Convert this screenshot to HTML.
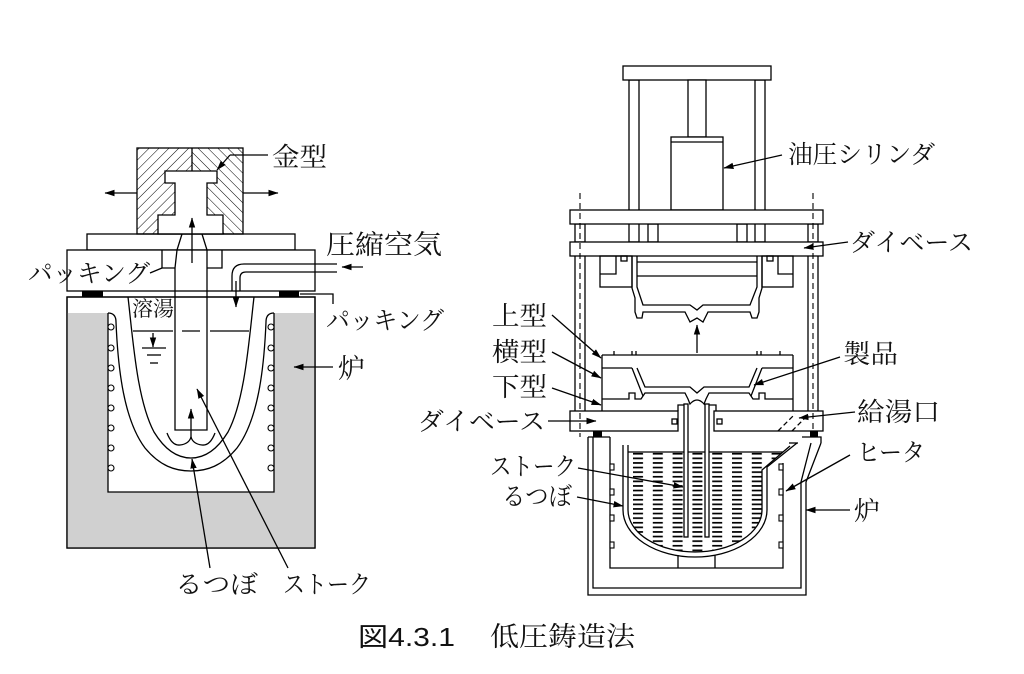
<!DOCTYPE html>
<html><head><meta charset="utf-8"><style>
html,body{margin:0;padding:0;background:#fff;}
svg{display:block;}
.t{font-family:"Noto Serif CJK SC","Noto Serif CJK JP","IPAMincho","Liberation Serif",serif;fill:#111;}
</style></head><body>
<svg width="1024" height="674" viewBox="0 0 1024 674" xmlns="http://www.w3.org/2000/svg">
<defs>
<marker id="a" markerWidth="10" markerHeight="8" refX="9.5" refY="4" orient="auto" markerUnits="userSpaceOnUse"><path d="M0,0.8 L10,4 L0,7.2 Z" fill="#000"/></marker>
<pattern id="h1" width="7" height="7" patternUnits="userSpaceOnUse" patternTransform="rotate(45)"><line x1="0" y1="0" x2="0" y2="7" stroke="#000" stroke-width="1"/></pattern>
<pattern id="h2" width="7" height="7" patternUnits="userSpaceOnUse" patternTransform="rotate(-45)"><line x1="0" y1="0" x2="0" y2="7" stroke="#000" stroke-width="1"/></pattern>
<pattern id="melt" x="633" y="457.5" width="19.8" height="4.6" patternUnits="userSpaceOnUse"><rect x="0" y="0" width="10" height="1.7" fill="#000"/></pattern>
</defs>

<!-- ================= LEFT DIAGRAM ================= -->
<g stroke="#000" stroke-width="1.3" fill="none">
<rect x="87" y="234" width="208" height="16" fill="#fff"/>
<rect x="67" y="250" width="248" height="41" fill="#fff"/>
<rect x="137" y="148" width="55" height="86" fill="url(#h1)" stroke="none"/>
<rect x="192" y="148" width="51" height="86" fill="url(#h2)" stroke="none"/>
<polygon points="165,171 217,171 217,183 207,183 207,215 223,215 223,234 158,234 158,215 175,215 175,183 165,183" fill="#fff"/>
<rect x="137" y="148" width="106" height="86"/>
<line x1="192" y1="148" x2="192" y2="171"/>
<polyline points="182,234 177,250 175,268"/>
<polyline points="202,234 207,250 207,268"/>
<polyline points="162,250 162,268 175,268"/>
<polyline points="222,250 222,268 207,268"/>
<path d="M337,264 H244 Q232,264 232,276 V291"/>
<path d="M337,272 H246 Q240,272 240,278 V291"/>
<rect x="67" y="297" width="248" height="251" fill="#fff"/>
<path d="M67,313 H315 V548 H67 Z M108,313 V492 H274 V313 Z" fill="#d0d0d0" fill-rule="evenodd" stroke="none"/>
<rect x="67" y="297" width="248" height="251"/>
<path d="M108,313 V492 H274 V313"/>
<path d="M108,313 Q116,313 116,322 C118,370 124,420 145,448 C160,466 175,471 191,471 C207,471 222,466 237,448 C258,420 264,370 266,322 Q266,313 274,313"/>
<path d="M128,297 C133,340 137,400 154,432 C165,450 178,458 191,458 C204,458 217,450 228,432 C245,400 249,340 254,297"/>
<g fill="#fff" stroke-width="1.1">
<circle cx="111" cy="327" r="3"/><circle cx="111" cy="348" r="3"/><circle cx="111" cy="368" r="3"/><circle cx="111" cy="388" r="3"/><circle cx="111" cy="408" r="3"/><circle cx="111" cy="428" r="3"/><circle cx="111" cy="448" r="3"/><circle cx="111" cy="468" r="3"/>
<circle cx="271" cy="327" r="3"/><circle cx="271" cy="348" r="3"/><circle cx="271" cy="368" r="3"/><circle cx="271" cy="388" r="3"/><circle cx="271" cy="408" r="3"/><circle cx="271" cy="428" r="3"/><circle cx="271" cy="448" r="3"/><circle cx="271" cy="468" r="3"/>
</g>
<path d="M175,268 V430 H207 V268"/>
<line x1="133" y1="331" x2="173" y2="331"/>
<line x1="182" y1="331" x2="200" y2="331"/>
<line x1="210" y1="331" x2="249" y2="331"/>
<line x1="142" y1="348" x2="166" y2="348"/>
<line x1="147" y1="355" x2="161" y2="355"/>
<line x1="150" y1="363" x2="158" y2="363"/>
<path d="M167,433 Q172,446 180,445 Q189,444 191,437 Q193,444 202,445 Q210,446 215,433"/>
<line x1="137" y1="193" x2="105" y2="193" marker-end="url(#a)"/>
<line x1="243" y1="193" x2="278" y2="193" marker-end="url(#a)"/>
<line x1="192" y1="263" x2="192" y2="218" marker-end="url(#a)"/>
<line x1="236" y1="281" x2="236" y2="307" marker-end="url(#a)"/>
<line x1="363" y1="267" x2="342" y2="267" marker-end="url(#a)"/>
<line x1="153" y1="333" x2="153" y2="347" marker-end="url(#a)"/>
<line x1="191" y1="438" x2="191" y2="409" marker-end="url(#a)"/>
<line x1="210" y1="568" x2="192" y2="459" marker-end="url(#a)"/>
<line x1="288" y1="568" x2="197" y2="389" marker-end="url(#a)"/>
<line x1="333" y1="367" x2="294" y2="367" marker-end="url(#a)"/>
<line x1="268" y1="155" x2="230" y2="155"/>
<line x1="230" y1="155" x2="217" y2="170" marker-end="url(#a)"/>
<line x1="150" y1="273" x2="162" y2="268"/>
<polyline points="300,294 333,294 333,304"/>
</g>
<rect x="82" y="291" width="21" height="6" fill="#000"/>
<rect x="279" y="291" width="20" height="6" fill="#000"/>

<text class="t" x="272" y="166" font-size="26" textLength="55" lengthAdjust="spacingAndGlyphs">金型</text>
<text class="t" x="326" y="254" font-size="27" textLength="116" lengthAdjust="spacingAndGlyphs">圧縮空気</text>
<text class="t" x="28" y="282" font-size="25" textLength="122" lengthAdjust="spacingAndGlyphs">パッキング</text>
<text class="t" x="326" y="329" font-size="25" textLength="118" lengthAdjust="spacingAndGlyphs">パッキング</text>
<text class="t" x="132" y="316" font-size="21" textLength="42" lengthAdjust="spacingAndGlyphs">溶湯</text>
<text class="t" x="338" y="378" font-size="27">炉</text>
<text class="t" x="175" y="593" font-size="25" textLength="83" lengthAdjust="spacingAndGlyphs">るつぼ</text>
<text class="t" x="283" y="593" font-size="25" textLength="88" lengthAdjust="spacingAndGlyphs">ストーク</text>

<!-- ================= RIGHT DIAGRAM ================= -->
<g stroke="#000" stroke-width="1.3" fill="none">
<rect x="629" y="80" width="10" height="162" fill="#fff"/>
<rect x="755" y="80" width="10" height="162" fill="#fff"/>
<rect x="623" y="66" width="148" height="14" fill="#fff"/>
<rect x="688" y="80" width="18" height="57" fill="#fff"/>
<rect x="671" y="137" width="52" height="73" fill="#fff"/>
<line x1="671" y1="142" x2="723" y2="142"/>
<rect x="575" y="224" width="10" height="18" fill="#fff"/>
<rect x="648" y="224" width="10" height="18" fill="#fff"/>
<rect x="737" y="224" width="10" height="18" fill="#fff"/>
<rect x="808" y="224" width="10" height="18" fill="#fff"/>
<rect x="570" y="210" width="253" height="14" fill="#fff"/>
<rect x="570" y="242" width="253" height="14" fill="#fff"/>
<line x1="575" y1="256" x2="575" y2="411"/>
<line x1="585" y1="256" x2="585" y2="411"/>
<line x1="808" y1="256" x2="808" y2="411"/>
<line x1="818" y1="256" x2="818" y2="411"/>
<rect x="600" y="256" width="32" height="31"/>
<polyline points="616,256 616,274 600,274"/>
<rect x="762" y="256" width="31" height="31"/>
<polyline points="778,256 778,274 793,274"/>
<rect x="621" y="256" width="6" height="5"/>
<rect x="767" y="256" width="6" height="5"/>
<line x1="637" y1="262" x2="757" y2="262"/>
<line x1="637" y1="276" x2="757" y2="276"/>
<polyline points="632,256 632,288 635,298 635,312 637,318 642,318 643,312 685,312 690,322 697,318 703,322 708,312 750,312 752,318 757,318 759,312 759,298 762,288 762,256"/>
<polyline points="637,256 637,287 643,305 690,305 697,310 703,305 750,305 757,287 757,256"/>
<line x1="697" y1="353" x2="697" y2="325" marker-end="url(#a)"/>
<line x1="602" y1="355" x2="793" y2="355"/>
<line x1="614" y1="351" x2="614" y2="355"/><line x1="632" y1="351" x2="632" y2="355"/><line x1="636" y1="351" x2="636" y2="355"/>
<line x1="757" y1="351" x2="757" y2="355"/><line x1="761" y1="351" x2="761" y2="355"/><line x1="780" y1="351" x2="780" y2="355"/>
<line x1="602" y1="355" x2="602" y2="411"/>
<line x1="793" y1="355" x2="793" y2="411"/>
<line x1="602" y1="368" x2="632" y2="368"/>
<line x1="762" y1="368" x2="793" y2="368"/>
<polyline points="632,368 643,396"/>
<polyline points="762,368 751,396"/>
<polyline points="637,368 645,387 690,387 697,393 704,387 749,387 757,368"/>
<path d="M602,399 H629 V393 H635 V399 H641 L645,393 H685 L688,399 L690,404 Q697,396 704,404 L706,399 L709,393 H749 L753,399 H759 V393 H765 V399 H793"/>
<rect x="570" y="411" width="108" height="20" fill="#fff"/>
<rect x="714" y="411" width="109" height="20" fill="#fff"/>
<polyline points="678,411 678,405 686,405"/>
<polyline points="708,405 716,405 716,411"/>
<rect x="672" y="419" width="5" height="5"/>
<rect x="717" y="419" width="5" height="5"/>
<line x1="778" y1="431" x2="795" y2="414" stroke-dasharray="5,3"/>
<line x1="792" y1="431" x2="808" y2="415" stroke-dasharray="5,3"/>
<path d="M588,437 V595 H806 V482 L821,443"/>
<path d="M593,437 V588 H801 V482 L811,443"/>
<line x1="588" y1="437" x2="610" y2="437"/>
<path d="M802,437 H821 V443"/>
<path d="M610,437 V568 H783 V463"/>
<line x1="678" y1="555" x2="678" y2="568"/>
<line x1="715" y1="555" x2="715" y2="568"/>
<g stroke-width="1.1" fill="#fff">
<rect x="610" y="464" width="4" height="6"/><rect x="610" y="489" width="4" height="6"/><rect x="610" y="515" width="4" height="6"/><rect x="610" y="542" width="4" height="6"/>
<rect x="779" y="464" width="4" height="6"/><rect x="779" y="489" width="4" height="6"/><rect x="779" y="515" width="4" height="6"/><rect x="779" y="542" width="4" height="6"/>
</g>
<path d="M628,452 H783 L762,470 V510 A67,42 0 0 1 628,510 Z" fill="url(#melt)" stroke="none"/>
<path d="M623,445 V510 A72,47 0 0 0 767,510 V467 L797,443"/>
<path d="M628,445 V510 A67,42 0 0 0 762,510 V470 L790,446"/>
<line x1="789" y1="443" x2="798" y2="443"/>
<line x1="628" y1="452" x2="783" y2="452"/>
<rect x="684" y="404" width="4" height="133" fill="#fff"/>
<rect x="705" y="404" width="4" height="133" fill="#fff"/>
<line x1="580" y1="193" x2="580" y2="437" stroke-dasharray="6,4" stroke-width="1.1"/>
<line x1="813" y1="193" x2="813" y2="437" stroke-dasharray="6,4" stroke-width="1.1"/>
<line x1="782" y1="155" x2="724" y2="168" marker-end="url(#a)"/>
<line x1="848" y1="242" x2="804" y2="248" marker-end="url(#a)"/>
<line x1="552" y1="315" x2="601" y2="358" marker-end="url(#a)"/>
<line x1="552" y1="352" x2="601" y2="378" marker-end="url(#a)"/>
<line x1="552" y1="388" x2="601" y2="405" marker-end="url(#a)"/>
<line x1="548" y1="421" x2="596" y2="421" marker-end="url(#a)"/>
<line x1="578" y1="468" x2="683" y2="487" marker-end="url(#a)"/>
<line x1="577" y1="497" x2="623" y2="506" marker-end="url(#a)"/>
<line x1="840" y1="357" x2="754" y2="385" marker-end="url(#a)"/>
<line x1="855" y1="412" x2="799" y2="418" marker-end="url(#a)"/>
<line x1="850" y1="455" x2="786" y2="491" marker-end="url(#a)"/>
<line x1="850" y1="510" x2="806" y2="510" marker-end="url(#a)"/>
</g>
<rect x="593" y="431" width="9" height="6" fill="#000"/>
<rect x="810" y="431" width="8" height="6" fill="#000"/>

<text class="t" x="788" y="163" font-size="25" textLength="147" lengthAdjust="spacingAndGlyphs">油圧シリンダ</text>
<text class="t" x="850" y="251" font-size="25" textLength="123" lengthAdjust="spacingAndGlyphs">ダイベース</text>
<text class="t" x="492" y="325" font-size="26" textLength="55" lengthAdjust="spacingAndGlyphs">上型</text>
<text class="t" x="492" y="361" font-size="26" textLength="55" lengthAdjust="spacingAndGlyphs">横型</text>
<text class="t" x="492" y="396" font-size="26" textLength="55" lengthAdjust="spacingAndGlyphs">下型</text>
<text class="t" x="418" y="430" font-size="25" textLength="127" lengthAdjust="spacingAndGlyphs">ダイベース</text>
<text class="t" x="490" y="475" font-size="25" textLength="86" lengthAdjust="spacingAndGlyphs">ストーク</text>
<text class="t" x="502" y="505" font-size="25" textLength="70" lengthAdjust="spacingAndGlyphs">るつぼ</text>
<text class="t" x="843" y="363" font-size="26" textLength="55" lengthAdjust="spacingAndGlyphs">製品</text>
<text class="t" x="857" y="421" font-size="26" textLength="83" lengthAdjust="spacingAndGlyphs">給湯口</text>
<text class="t" x="857" y="461" font-size="25" textLength="68" lengthAdjust="spacingAndGlyphs">ヒータ</text>
<text class="t" x="854" y="520" font-size="26">炉</text>

<text x="358" y="646" font-family="'Liberation Sans','Noto Sans CJK JP',sans-serif" font-size="26" fill="#111" textLength="97" lengthAdjust="spacingAndGlyphs">図4.3.1</text>
<text class="t" x="490" y="646" font-size="27" textLength="145" lengthAdjust="spacingAndGlyphs">低圧鋳造法</text>
</svg>
</body></html>
